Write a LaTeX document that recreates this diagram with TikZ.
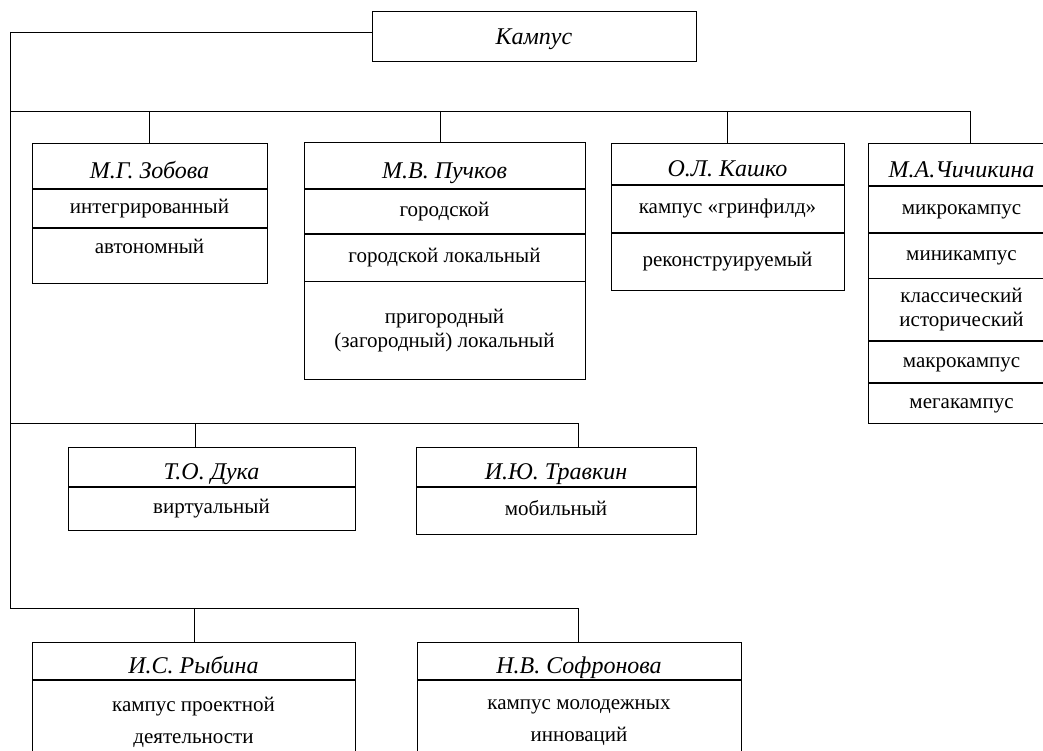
\documentclass[tikz,border=0pt]{standalone}
\usepackage{fontspec}
\setmainfont{Liberation Serif}
\usetikzlibrary{positioning}
\newcommand{\bodysize}{\fontsize{21}{24}\selectfont}
\newcommand{\namesize}{\fontsize{24}{28}\selectfont\itshape}
\tikzset{%
        node distance = 0pt
}
\tikzstyle{box}=[
    draw = black,
    line width = 0.8pt,
    inner sep = 0pt,
    align = center,
    font = \bodysize
]
\tikzstyle{cell}=[
    box,
    text height = 15pt,
    text depth = 5pt
]
\tikzstyle{head}=[
    box,
    font = \namesize,
    text height = 26pt,
    text depth = 0pt
]
\tikzstyle{every edge}=[
    draw = black,
    line width = 0.8pt
]

\begin{document}
\begin{tikzpicture}[x = 1pt, y = -1pt]
        \useasboundingbox (0,0) rectangle (1043,751);
        \clip (0,0) rectangle (1043,751);
        % root
        \node[head, minimum width = 324pt, minimum height = 50pt, text height = 17pt] (kamp) at (534,36) {Кампус};
        % first row
        \node[head, minimum width = 235pt, minimum height = 45pt, anchor = north] (zob) at (149.5,143) {М.Г. Зобова};
        \node[cell, minimum width = 235pt, minimum height = 38pt] (zob1) [below = of zob] {интегрированный};
        \node[cell, minimum width = 235pt, minimum height = 55pt, text depth = 18pt] (zob2) [below = of zob1] {автономный};
        \node[head, minimum width = 281pt, minimum height = 46pt, anchor = north] (puch) at (444.5,142) {М.В. Пучков};
        \node[cell, minimum width = 281pt, minimum height = 44pt] (puch1) [below = of puch] {городской};
        \node[cell, minimum width = 281pt, minimum height = 47pt] (puch2) [below = of puch1] {городской локальный};
        \node[box, minimum width = 281pt, minimum height = 98pt] (puch3) [below = of puch2] {пригородный\\(загородный) локальный};
        \node[head, minimum width = 233pt, minimum height = 41pt, anchor = north] (kash) at (727.5,143) {О.Л. Кашко};
        \node[cell, minimum width = 233pt, minimum height = 47pt] (kash1) [below = of kash] {кампус «гринфилд»};
        \node[cell, minimum width = 233pt, minimum height = 57pt] (kash2) [below = of kash1] {реконструируемый};
        \node[head, minimum width = 187pt, minimum height = 42pt, anchor = north] (chich) at (961.5,143) {М.А.Чичикина};
        \node[cell, minimum width = 187pt, minimum height = 46pt] (chich1) [below = of chich] {микрокампус};
        \node[cell, minimum width = 187pt, minimum height = 45pt] (chich2) [below = of chich1] {миникампус};
        \node[box, minimum width = 187pt, minimum height = 62pt] (chich3) [below = of chich2] {классический\\исторический};
        \node[cell, minimum width = 187pt, minimum height = 41pt] (chich4) [below = of chich3] {макрокампус};
        \node[cell, minimum width = 187pt, minimum height = 40pt] (chich5) [below = of chich4] {мегакампус};
        % second row
        \node[head, minimum width = 287pt, minimum height = 39pt, anchor = north] (duka) at (211.5,447) {Т.О. Дука};
        \node[cell, minimum width = 287pt, minimum height = 43pt] (duka1) [below = of duka] {виртуальный};
        \node[head, minimum width = 280pt, minimum height = 39pt, anchor = north] (trav) at (556,447) {И.Ю. Травкин};
        \node[cell, minimum width = 280pt, minimum height = 47pt] (trav1) [below = of trav] {мобильный};
        % third row
        \node[head, minimum width = 323pt, minimum height = 37pt, anchor = north] (ryb) at (193.5,642) {И.С. Рыбина};
        \node[box, minimum width = 323pt, minimum height = 84pt, font = \fontsize{21}{32}\selectfont] (ryb1) [below = of ryb] {кампус проектной\\деятельности};
        \node[head, minimum width = 324pt, minimum height = 37pt, anchor = north] (sof) at (579,642) {Н.В. Софронова};
        \node[box, minimum width = 324pt, minimum height = 84pt, font = \fontsize{21}{32}\selectfont] (sof1) [below = of sof] {кампус молодежных\\инноваций};
        % tree lines
        \coordinate (k0) at (10,32);
        \coordinate (b1) at (10,111);
        \coordinate (b2) at (10,423);
        \coordinate (b3) at (10,608);
        \coordinate (d11) at (149,111);
        \coordinate (d12) at (440,111);
        \coordinate (d13) at (727,111);
        \coordinate (d14) at (970,111);
        \coordinate (d21) at (195,423);
        \coordinate (d22) at (578,423);
        \coordinate (d31) at (194,608);
        \coordinate (d32) at (578,608);
        \path
        (kamp.west |- k0) edge (k0)
        (k0) edge (b3)
        (b1) edge (d14)
        (b2) edge (d22)
        (b3) edge (d32)
        (d11) edge (d11 |- zob.north)
        (d12) edge (d12 |- puch.north)
        (d13) edge (d13 |- kash.north)
        (d14) edge (d14 |- chich.north)
        (d21) edge (d21 |- duka.north)
        (d22) edge (d22 |- trav.north)
        (d31) edge (d31 |- ryb.north)
        (d32) edge (d32 |- sof.north)
        ;
\end{tikzpicture}
\end{document}
